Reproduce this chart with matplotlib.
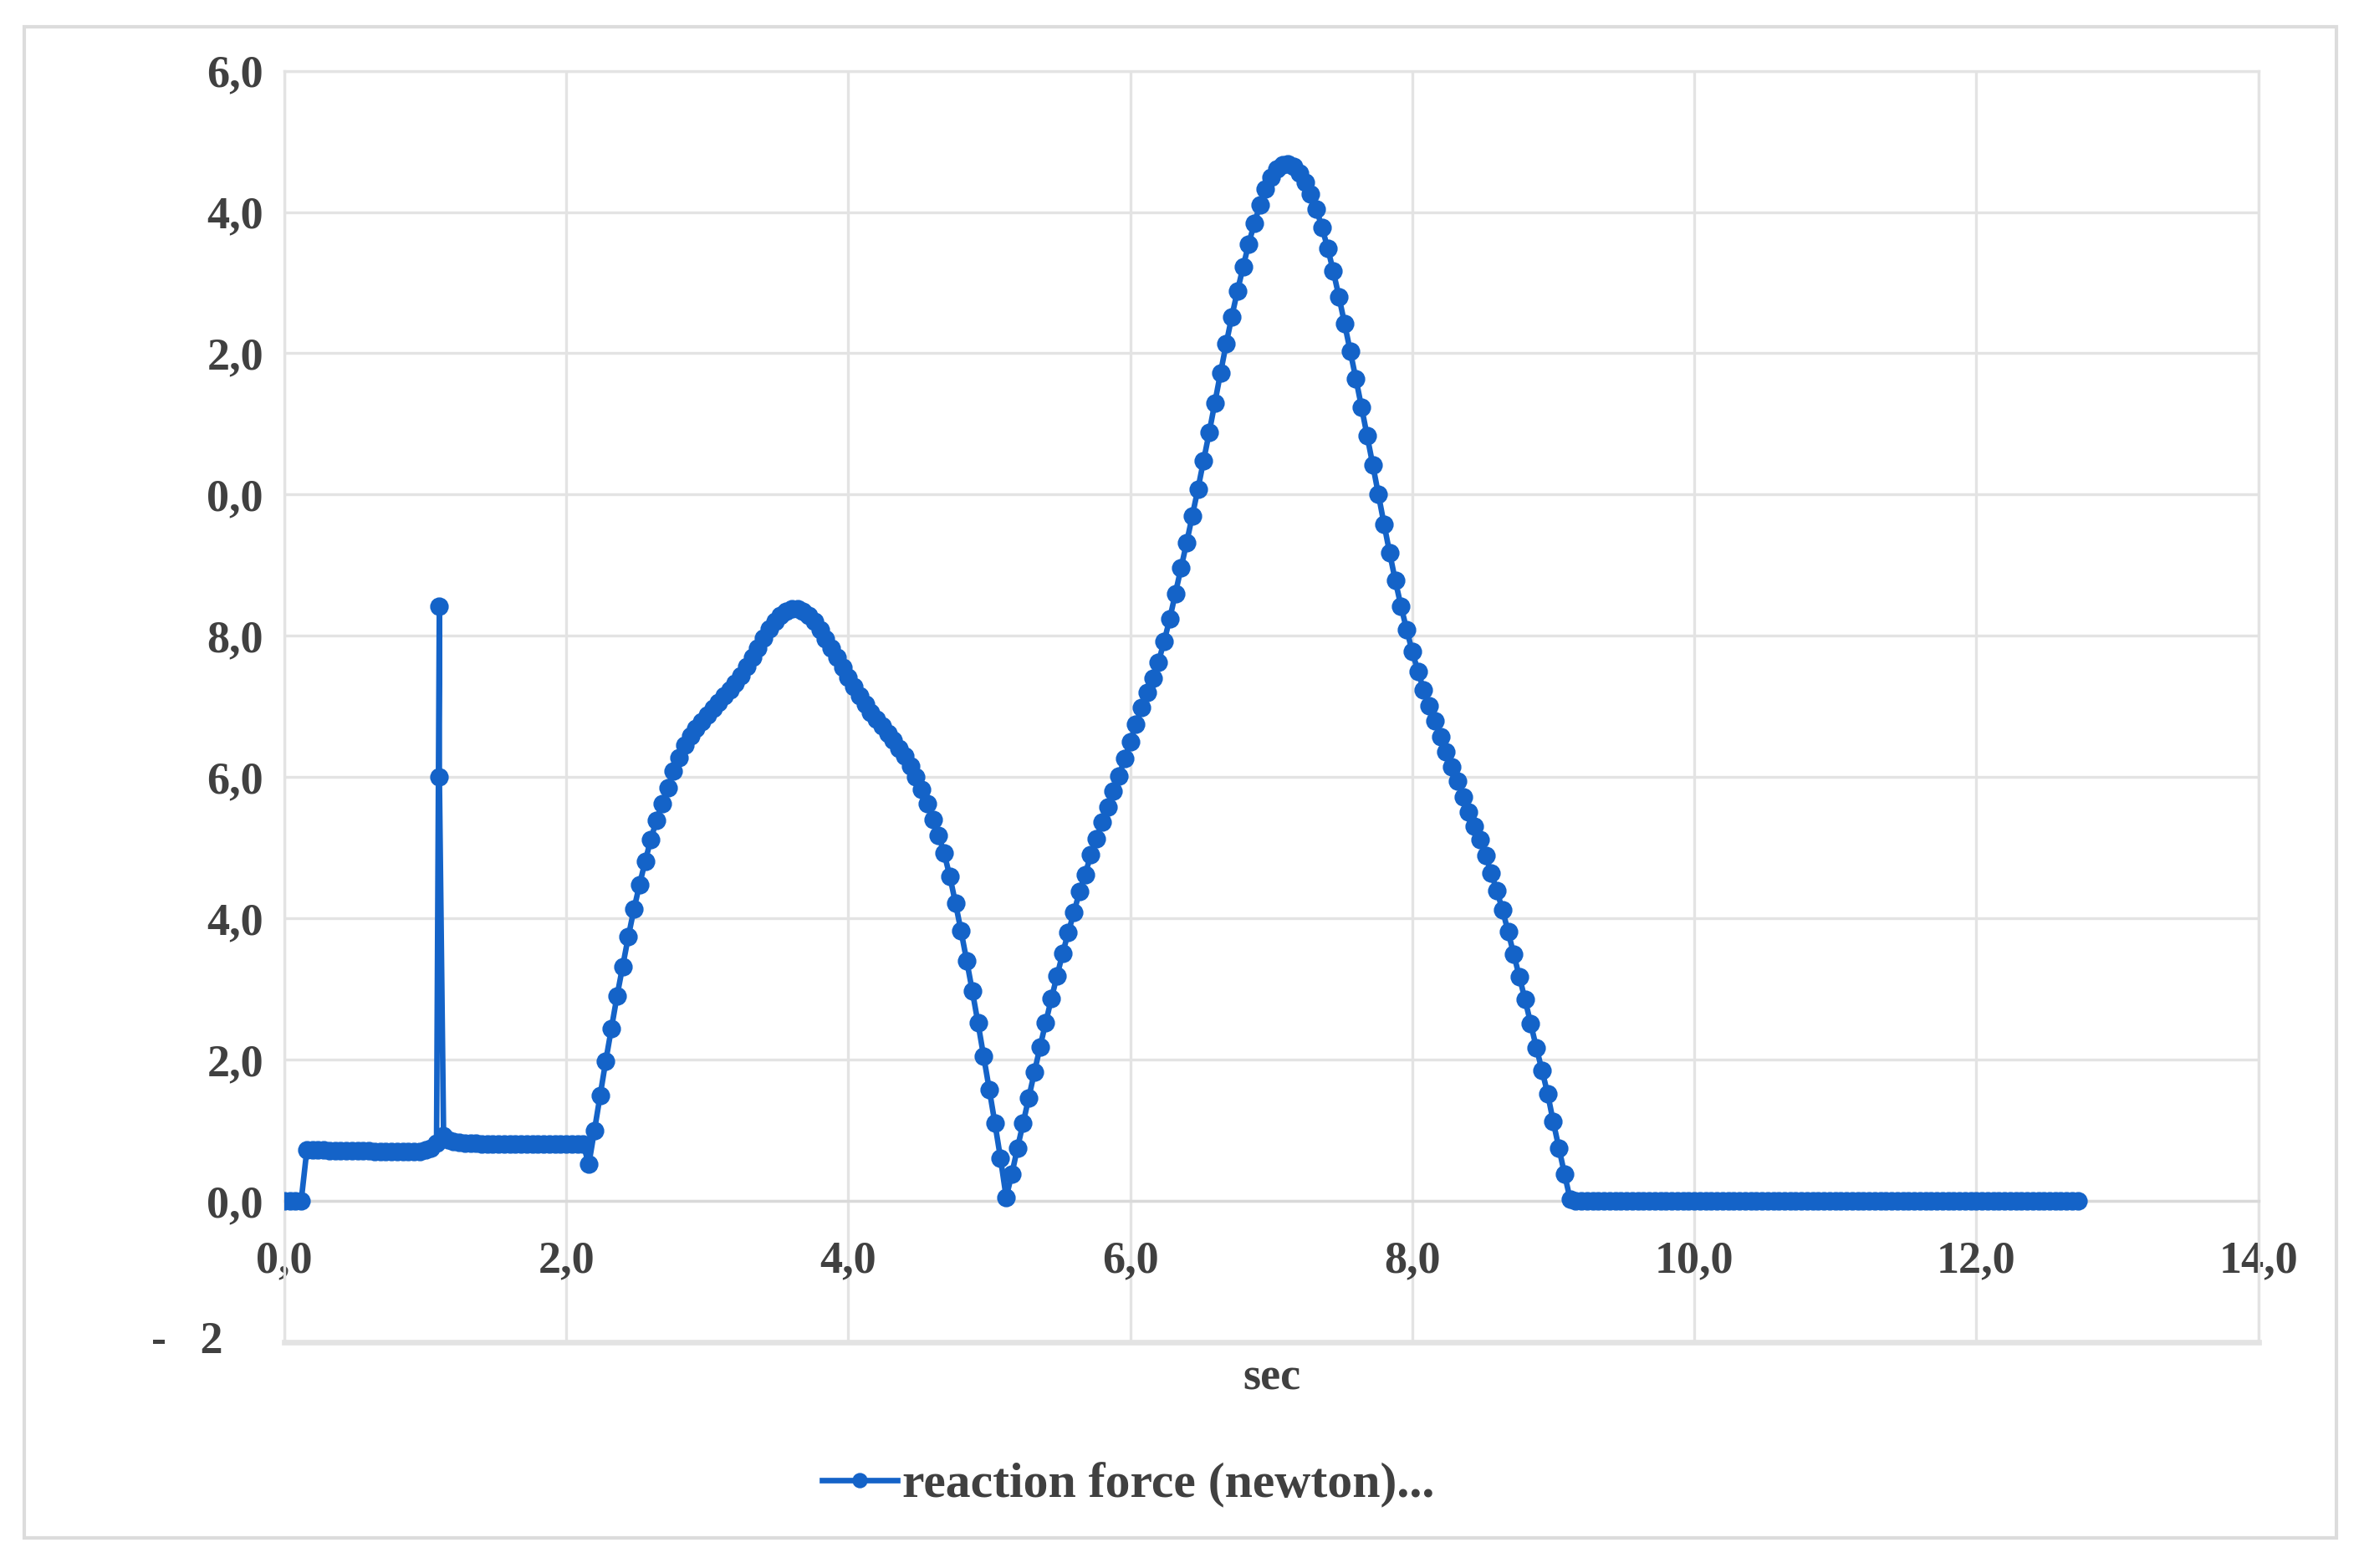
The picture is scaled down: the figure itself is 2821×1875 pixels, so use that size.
import numpy as np
import matplotlib.pyplot as plt
from matplotlib.patches import Rectangle

DT = 0.04

# idle part before the spike
t_idle1 = np.round(np.arange(0.0, 1.05, DT), 2)
f_idle1 = [0.0, 0.0, 0.0, 0.0,
           0.72, 0.72, 0.72, 0.72, 0.71, 0.71, 0.71, 0.71, 0.71, 0.71, 0.71, 0.71,
           0.70, 0.70, 0.70, 0.70, 0.70, 0.70, 0.70, 0.70, 0.70, 0.72, 0.75]

# the short spike
t_spike = [1.08, 1.10, 1.10, 1.13]
f_spike = [0.82, 8.42, 6.00, 0.93]

# idle part after the spike
t_idle2 = np.round(np.arange(1.16, 2.13, DT), 2)
f_idle2 = [0.86, 0.84, 0.83, 0.82, 0.82, 0.82, 0.81, 0.81, 0.81, 0.81, 0.81, 0.81, 0.81,
           0.81, 0.81, 0.80, 0.80, 0.80, 0.80, 0.80, 0.80, 0.80, 0.80, 0.80, 0.80]

# main motion, 2.16 s .. 12.72 s
t_main = np.round(np.arange(2.16, 12.73, DT), 2)
f_main = [
    0.52, 1.00, 1.49, 1.98, 2.44, 2.90, 3.32, 3.74, 4.13, 4.48,
    4.81, 5.12, 5.39, 5.63, 5.85, 6.08, 6.28, 6.45, 6.58, 6.69,
    6.79, 6.88, 6.97, 7.06, 7.15, 7.24, 7.33, 7.44, 7.56, 7.69,
    7.83, 7.97, 8.10, 8.21, 8.29, 8.35, 8.38, 8.38, 8.35, 8.29,
    8.20, 8.09, 7.96, 7.83, 7.69, 7.55, 7.41, 7.28, 7.15, 7.03,
    6.92, 6.82, 6.72, 6.62, 6.52, 6.41, 6.30, 6.16, 6.00, 5.82,
    5.62, 5.40, 5.18, 4.92, 4.60, 4.22, 3.82, 3.40, 2.97, 2.52,
    2.05, 1.58, 1.10, 0.60, 0.05, 0.38, 0.75, 1.10, 1.46, 1.82,
    2.18, 2.52, 2.86, 3.18, 3.50, 3.80, 4.08, 4.38, 4.62, 4.90,
    5.13, 5.36, 5.58, 5.80, 6.02, 6.26, 6.50, 6.75, 6.98, 7.20,
    7.40, 7.63, 7.92, 8.24, 8.60, 8.96, 9.32, 9.70, 10.08, 10.48,
    10.88, 11.30, 11.72, 12.13, 12.52, 12.88, 13.22, 13.55, 13.84, 14.10,
    14.32, 14.49, 14.61, 14.67, 14.68, 14.64, 14.55, 14.42, 14.25, 14.04,
    13.78, 13.49, 13.16, 12.80, 12.42, 12.03, 11.64, 11.24, 10.83, 10.42,
    10.00, 9.58, 9.17, 8.78, 8.42, 8.09, 7.78, 7.50, 7.24, 7.01,
    6.80, 6.57, 6.36, 6.15, 5.94, 5.72, 5.51, 5.31, 5.12, 4.89,
    4.64, 4.39, 4.12, 3.81, 3.49, 3.17, 2.85, 2.51, 2.17, 1.85,
    1.52, 1.12, 0.75, 0.38, 0.02,
]
# after 9.12 s the force stays at zero until the end of the record
f_main = f_main + [0.0] * (len(t_main) - len(f_main))

time = np.concatenate([t_idle1, t_spike, t_idle2, t_main])
force = np.concatenate([f_idle1, f_spike, f_idle2, f_main])

y_ticks = [-2, 0, 2, 4, 6, 8, 10, 12, 14, 16]
y_labels = ['', '0,0', '2,0', '4,0', '6,0', '8,0', '0,0', '2,0', '4,0', '6,0']
x_ticks = [0, 2, 4, 6, 8, 10, 12, 14]
x_labels = ['0,0', '2,0', '4,0', '6,0', '8,0', '10,0', '12,0', '14,0']

# --- figure ---
plt.rcParams['font.family'] = ['Liberation Serif', 'DejaVu Serif']
plt.rcParams['font.weight'] = 'bold'
txt_col = '#404040'
grid_col = '#e3e3e3'
blue = '#1463c8'

fig = plt.figure(figsize=(14.105, 9.375), dpi=200)
ax = fig.add_axes([0.1205, 0.1440, 0.8368, 0.8109])

ax.plot(time, force, color=blue, lw=2.4, marker='o', ms=7.0,
        mec=blue, mfc=blue, label='reaction force (newton)...', zorder=3)

ax.set_xlim(0, 14)
ax.set_ylim(-2, 16)
ax.set_xticks(x_ticks)
ax.set_xticklabels(x_labels)
ax.set_yticks(y_ticks)
ax.set_yticklabels(y_labels)

ax.grid(True, color=grid_col, lw=1.2, zorder=0)
ax.tick_params(length=0, colors=txt_col, labelsize=19.5)
ax.tick_params(axis='x', pad=17)
ax.tick_params(axis='y', pad=9)

for s in ['top', 'right', 'left']:
    ax.spines[s].set_color(grid_col)
    ax.spines[s].set_linewidth(1.2)
ax.spines['bottom'].set_position(('data', 0))
ax.spines['bottom'].set_color('#d9d9d9')
ax.spines['bottom'].set_linewidth(1.2)
ax.axhline(-2, color=grid_col, lw=2.4, clip_on=False, zorder=0)

# bottom label of the value axis, drawn apart as in the source
ax.text(-0.031, -2, '-   2', transform=ax.get_yaxis_transform(),
        ha='right', va='center', fontsize=19.5, color=txt_col, fontweight='bold')

fig.text(0.539, 1 - 916 / 1042, 'sec', ha='center', va='center',
         fontsize=19.5, color=txt_col, fontweight='bold')

leg = fig.legend(loc='center', bbox_to_anchor=(750 / 1568, 1 - 987 / 1042),
                 frameon=False, fontsize=21.5, handlelength=1.5, handletextpad=0.1,
                 markerscale=0.8)
for t in leg.get_texts():
    t.set_color(txt_col)

# outer chart border
fig.patches.append(Rectangle((16 / 1568, 1 - 1022 / 1042), (1553 - 16) / 1568,
                             (1022 - 18) / 1042, transform=fig.transFigure,
                             fill=False, ec='#dcdcdc', lw=1.5))

fig.savefig('out.png', dpi=200, facecolor='white')
